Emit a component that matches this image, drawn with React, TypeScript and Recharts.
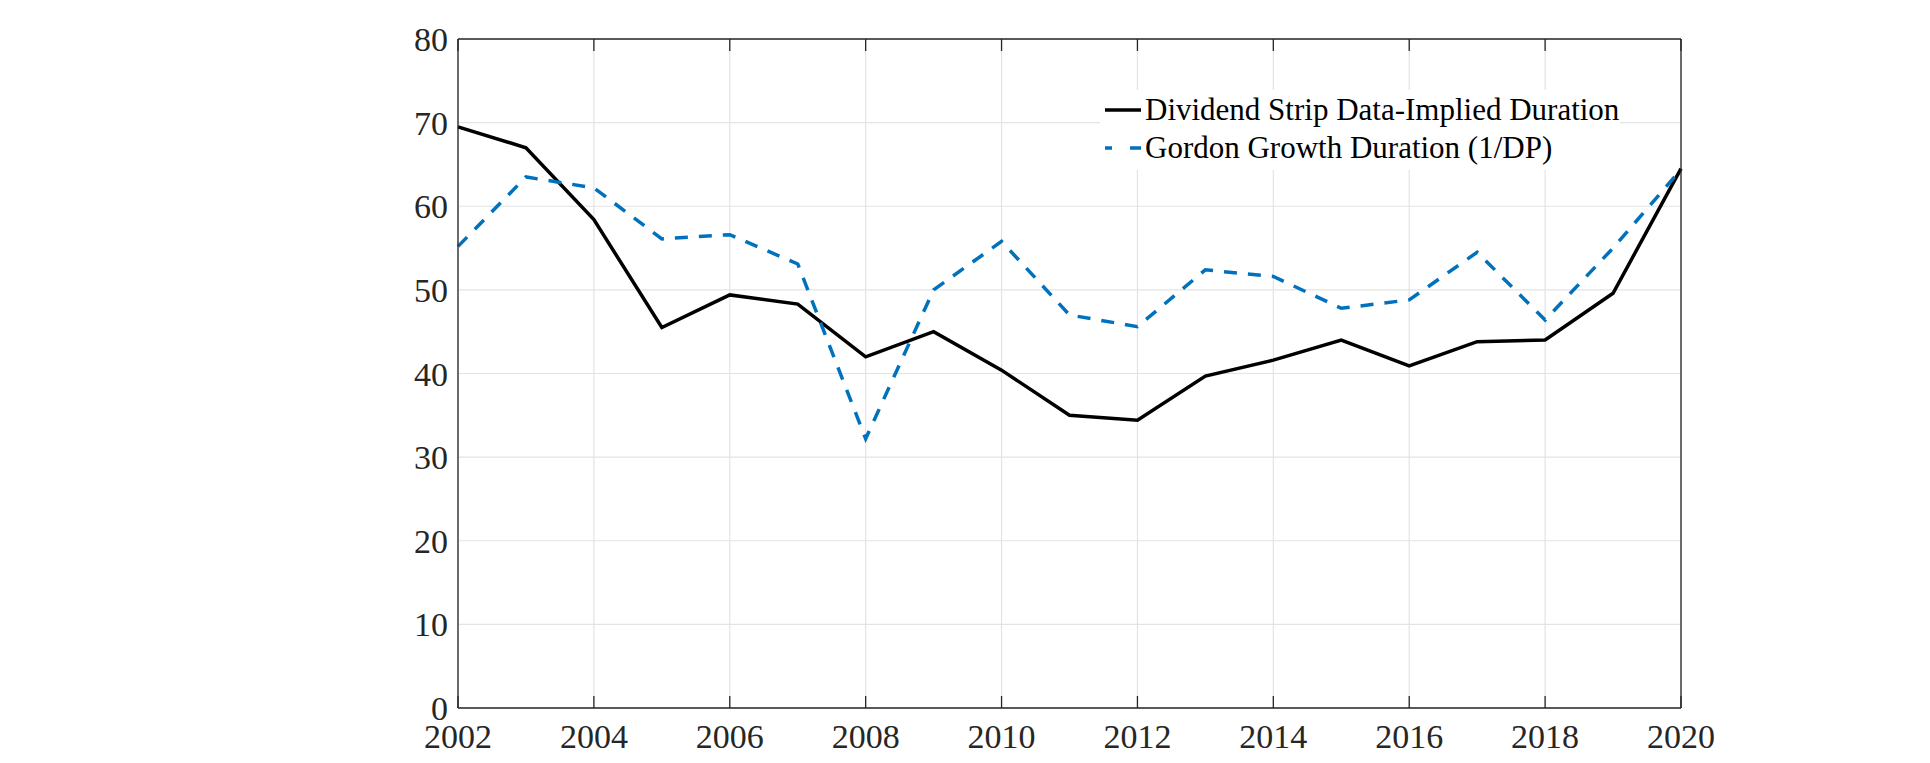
import React from 'react';
import {
  LineChart,
  Line,
  XAxis,
  YAxis,
  CartesianGrid,
  Legend,
} from 'recharts';

// annual observations
const years = [
  2002, 2003, 2004, 2005, 2006, 2007, 2008, 2009, 2010, 2011,
  2012, 2013, 2014, 2015, 2016, 2017, 2018, 2019, 2020,
];
const stripDuration = [
  69.5, 67.0, 58.4, 45.5, 49.4, 48.3, 42.0, 45.0, 40.4, 35.0,
  34.4, 39.7, 41.6, 44.0, 40.9, 43.8, 44.0, 49.6, 64.5,
];
const gordonDuration = [
  55.2, 63.5, 62.2, 56.1, 56.6, 53.1, 32.2, 50.0, 55.8, 47.0,
  45.6, 52.4, 51.6, 47.8, 48.8, 54.5, 46.4, 55.0, 64.4,
];
const xTicks = [2002, 2004, 2006, 2008, 2010, 2012, 2014, 2016, 2018, 2020];
const yTicks = [0, 10, 20, 30, 40, 50, 60, 70, 80];

const seriesNames = {
  strip: 'Dividend Strip Data-Implied Duration',
  gordon: 'Gordon Growth Duration (1/DP)',
};

const data = years.map((year, i) => ({
  year,
  strip: stripDuration[i],
  gordon: gordonDuration[i],
}));

const FONT = '"Liberation Serif", "Times New Roman", serif';
const AXIS_COLOR = '#262626';
const BLUE = '#0072BD';
const tickFont = { fontFamily: FONT, fontSize: 34, fill: AXIS_COLOR };
const blank = () => '';

const LegendBox = () => (
  <div
    style={{
      background: '#fff',
      width: 520,
      height: 80,
      boxSizing: 'border-box',
      paddingLeft: 5,
      paddingTop: 1,
      fontFamily: FONT,
      fontSize: 31,
      color: '#000',
      textAlign: 'left',
    }}
  >
    {[
      { name: seriesNames.strip, color: '#000', dash: undefined },
      { name: seriesNames.gordon, color: BLUE, dash: '7 18 12' },
    ].map((item) => (
      <div
        key={item.name}
        style={{ display: 'flex', alignItems: 'center', height: 38, whiteSpace: 'nowrap' }}
      >
        <svg width={36} height={10} style={{ marginRight: 4, flexShrink: 0 }}>
          <line
            x1={0}
            y1={5}
            x2={36}
            y2={5}
            stroke={item.color}
            strokeWidth={3.6}
            strokeDasharray={item.dash}
          />
        </svg>
        <span>{item.name}</span>
      </div>
    ))}
  </div>
);

export default function App() {
  return (
    <div style={{ position: 'absolute', left: 0, top: 0, width: 1930, height: 763, background: '#fff' }}>
      <LineChart
        width={1930}
        height={763}
        data={data}
        margin={{ top: 39, right: 249, bottom: 5, left: 398 }}
      >
        <CartesianGrid xAxisId="b" yAxisId="l" stroke="#e3e3e3" strokeWidth={1.2} />

        {/* labelled axes */}
        <XAxis
          xAxisId="b"
          dataKey="year"
          type="number"
          domain={[2002, 2020]}
          ticks={xTicks}
          height={50}
          tickLine={false}
          tickSize={0}
          tickMargin={16}
          axisLine={{ stroke: AXIS_COLOR, strokeWidth: 1.3 }}
          tick={tickFont}
          interval={0}
        />
        <YAxis
          yAxisId="l"
          type="number"
          domain={[0, 80]}
          ticks={yTicks}
          width={60}
          tickLine={false}
          tickSize={0}
          tickMargin={10}
          axisLine={{ stroke: AXIS_COLOR, strokeWidth: 1.3 }}
          tick={tickFont}
          interval={0}
        />

        {/* inward tick marks and the rest of the box */}
        <XAxis
          xAxisId="bm"
          dataKey="year"
          type="number"
          domain={[2002, 2020]}
          ticks={xTicks}
          orientation="bottom"
          mirror
          axisLine={false}
          tickSize={12}
          tickLine={{ stroke: AXIS_COLOR, strokeWidth: 1.3 }}
          tickFormatter={blank}
          interval={0}
        />
        <XAxis
          xAxisId="t"
          dataKey="year"
          type="number"
          domain={[2002, 2020]}
          ticks={xTicks}
          orientation="top"
          mirror
          axisLine={{ stroke: AXIS_COLOR, strokeWidth: 1.3 }}
          tickSize={12}
          tickLine={{ stroke: AXIS_COLOR, strokeWidth: 1.3 }}
          tickFormatter={blank}
          interval={0}
        />
        <YAxis
          yAxisId="lm"
          type="number"
          domain={[0, 80]}
          ticks={yTicks}
          orientation="left"
          mirror
          axisLine={false}
          tickSize={12}
          tickLine={{ stroke: AXIS_COLOR, strokeWidth: 1.3 }}
          tickFormatter={blank}
          interval={0}
        />
        <YAxis
          yAxisId="r"
          type="number"
          domain={[0, 80]}
          ticks={yTicks}
          orientation="right"
          mirror
          axisLine={{ stroke: AXIS_COLOR, strokeWidth: 1.3 }}
          tickSize={12}
          tickLine={{ stroke: AXIS_COLOR, strokeWidth: 1.3 }}
          tickFormatter={blank}
          interval={0}
        />

        {/* middle alignment keeps the legend from reserving chart space */}
        <Legend
          layout="vertical"
          align="center"
          verticalAlign="middle"
          content={<LegendBox />}
          wrapperStyle={{ left: 1100, top: 90, width: 520, height: 80 }}
        />

        <Line
          xAxisId="b"
          yAxisId="l"
          type="linear"
          dataKey="strip"
          name={seriesNames.strip}
          stroke="#000"
          strokeWidth={3.5}
          strokeLinejoin="miter"
          dot={false}
          isAnimationActive={false}
        />
        <Line
          xAxisId="b"
          yAxisId="l"
          type="linear"
          dataKey="gordon"
          name={seriesNames.gordon}
          stroke={BLUE}
          strokeWidth={3.5}
          strokeDasharray="13 11"
          dot={false}
          isAnimationActive={false}
        />
      </LineChart>
    </div>
  );
}
